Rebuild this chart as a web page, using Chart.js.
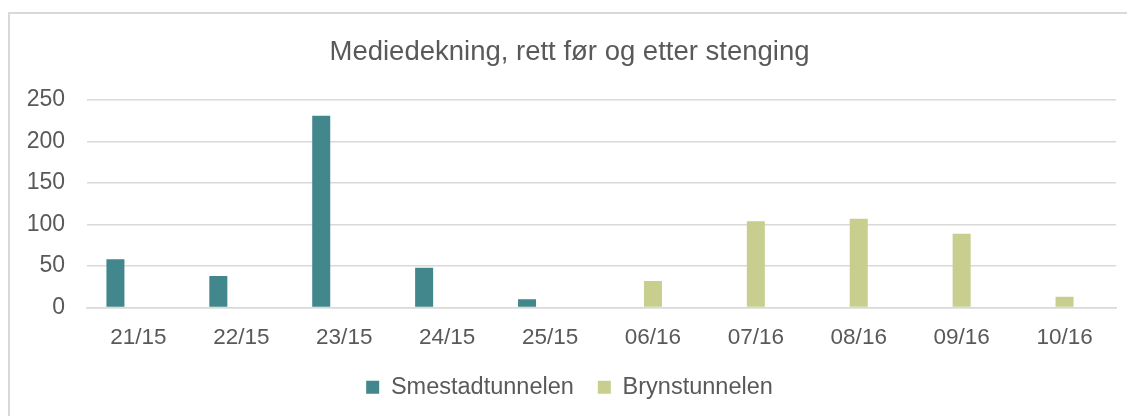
<!DOCTYPE html>
<html>
<head>
<meta charset="utf-8">
<script src="https://cdn.jsdelivr.net/npm/chart.js@4/dist/chart.umd.min.js"></script>
<style>
  html, body { margin: 0; padding: 0; background: #fff; overflow: hidden; }
  #frame {
    position: absolute; left: 8px; top: 12px; width: 1300px; height: 600px;
    border: 2px solid #d9d9d9; box-sizing: border-box;
  }
  #wrap { position: absolute; left: 0; top: 0; width: 1127px; height: 416px; }
</style>
</head>
<body>
<div id="frame"></div>
<div id="wrap"><canvas id="chart"></canvas></div>
<script>
const weeks = ["21/15", "22/15", "23/15", "24/15", "25/15", "06/16", "07/16", "08/16", "09/16", "10/16"];
const smestad = [58, 38, 231, 48, 10, null, null, null, null, null];
const bryn = [null, null, null, null, null, 32, 104, 107, 89, 13];
// third, empty series: keeps three bar slots per week like the source sheet
const unused = [null, null, null, null, null, null, null, null, null, null];

const textColor = "#595959";
const gridColor = "#d9d9d9";
const font = "'Liberation Sans', Arial, sans-serif";

function makeChart() {
    const barOpts = { categoryPercentage: 0.671, barPercentage: 0.783 };
    return new Chart("chart", {
        type: "bar",
        data: {
            labels: weeks,
            datasets: [
                { label: "Smestadtunnelen", data: smestad, backgroundColor: "#41878b", ...barOpts },
                { label: "Brynstunnelen", data: bryn, backgroundColor: "#c7ce8e", ...barOpts },
                { label: "", data: unused, backgroundColor: "transparent", ...barOpts },
            ],
        },
        options: {
            responsive: true,
            maintainAspectRatio: false,
            animation: false,
            layout: { padding: { left: 23, right: 11, top: 12, bottom: 7 } },
            plugins: {
                title: {
                    display: true,
                    text: "Mediedekning, rett før og etter stenging",
                    color: textColor,
                    font: { family: font, size: 27.5, weight: "normal" },
                    padding: { top: 24, bottom: 31 },
                },
                legend: {
                    position: "bottom",
                    labels: {
                        color: textColor,
                        font: { family: font, size: 23.5 },
                        boxWidth: 13,
                        boxHeight: 13,
                        padding: 24,
                        filter: (item) => item.text !== "",
                    },
                },
                tooltip: { enabled: false },
            },
            scales: {
                x: {
                    grid: { display: false, drawTicks: false },
                    border: { display: true, color: gridColor, width: 1.5 },
                    ticks: { color: textColor, font: { family: font, size: 22.5 }, padding: 17, maxRotation: 0 },
                    afterFit: (scale) => { scale.height = 44; },
                },
                y: {
                    min: 0,
                    max: 250,
                    ticks: { stepSize: 50, color: textColor, font: { family: font, size: 23 }, padding: 22 },
                    grid: { color: gridColor, lineWidth: 1.5, drawTicks: false },
                    border: { display: false },
                    afterFit: (scale) => { scale.width = 64; },
                },
            },
        },
    });
}

window.chart = makeChart();
</script>
</body>
</html>
